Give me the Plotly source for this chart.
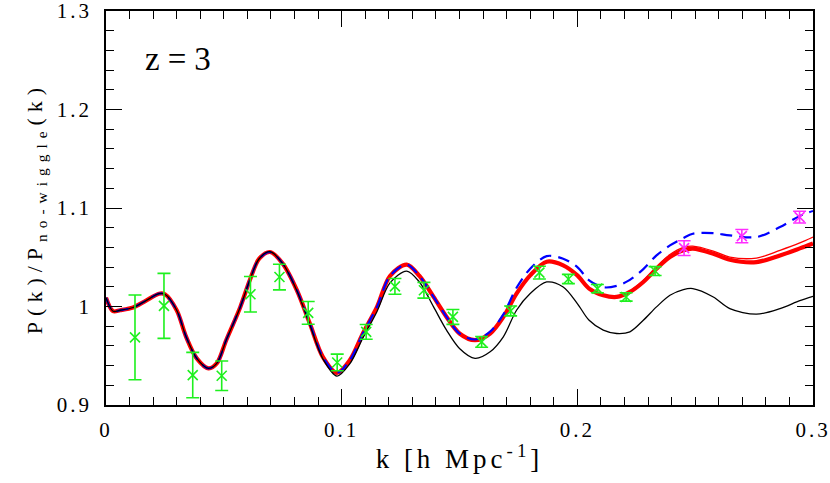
import plotly.graph_objects as go

# ---- data ----
k_curve = [0, 0.003, 0.006, 0.0115, 0.017, 0.0225, 0.025, 0.030, 0.034, 0.0385, 0.0435, 0.047,
           0.051, 0.057, 0.061, 0.065, 0.0696, 0.075, 0.081, 0.0865, 0.092, 0.098, 0.1035, 0.109,
           0.115, 0.1205, 0.1276, 0.133, 0.139, 0.1445, 0.150, 0.1566, 0.163, 0.1686, 0.1742, 0.180,
           0.187, 0.194, 0.200, 0.205, 0.211, 0.2167, 0.2223, 0.228, 0.2336, 0.2393, 0.245, 0.249,
           0.2577, 0.2647, 0.276, 0.286, 0.2944, 0.3]

ratio_red_thick = [1.009, 0.9952, 0.9962, 0.999, 1.006, 1.013, 1.0124, 0.9962, 0.9692, 0.9473, 0.9372, 0.9422,
                   0.9658, 0.9996, 1.0266, 1.0485, 1.0553, 1.0435, 1.0165, 0.9827, 0.9489, 0.9327, 0.9456, 0.9726,
                   0.9996, 1.031, 1.0425, 1.031, 1.0097, 0.9894, 0.9726, 0.9658, 0.9726, 0.9894, 1.0131, 1.0316,
                   1.0455, 1.0418, 1.0316, 1.0182, 1.0114, 1.0097, 1.0148, 1.0249, 1.0384, 1.0502, 1.057, 1.0587,
                   1.0536, 1.0475, 1.0451, 1.0519, 1.0590, 1.064]

ratio_red_thin = [1.009, 0.9952, 0.9962, 0.999, 1.006, 1.013, 1.0124, 0.9962, 0.9692, 0.9473, 0.9372, 0.9422,
                  0.9658, 0.9996, 1.0266, 1.0485, 1.0553, 1.0435, 1.0165, 0.9827, 0.9489, 0.9327, 0.9456, 0.9726,
                  0.9996, 1.031, 1.0425, 1.031, 1.0097, 0.9894, 0.9726, 0.9658, 0.9726, 0.9894, 1.0131, 1.0316,
                  1.0455, 1.0418, 1.0316, 1.0182, 1.0114, 1.0102, 1.0158, 1.0264, 1.0404, 1.0527, 1.060, 1.0613,
                  1.0563, 1.0502, 1.0492, 1.057, 1.0645, 1.0705]

ratio_blue = [1.009, 0.9952, 0.9962, 0.999, 1.006, 1.013, 1.0124, 0.9962, 0.9692, 0.9473, 0.9372, 0.9422,
              0.9658, 0.9996, 1.0266, 1.0485, 1.0553, 1.0435, 1.0165, 0.9827, 0.9489, 0.9327, 0.9456, 0.9726,
              0.9996, 1.031, 1.0425, 1.031, 1.0097, 0.9894, 0.9726, 0.9665, 0.9745, 0.992, 1.019, 1.0384,
              1.0512, 1.0485, 1.040, 1.0266, 1.0195, 1.021, 1.027, 1.038, 1.0519, 1.062, 1.0695, 1.0739,
              1.0745, 1.0722, 1.0705, 1.0806, 1.092, 1.097]

ratio_black = [1.009, 0.9952, 0.9962, 0.999, 1.006, 1.013, 1.0124, 0.9962, 0.9692, 0.9473, 0.9372, 0.9422,
               0.9658, 0.9996, 1.0266, 1.0485, 1.0556, 1.0435, 1.0160, 0.9815, 0.9470, 0.9294, 0.9420, 0.968,
               0.995, 1.024, 1.036, 1.0249, 0.9996, 0.976, 0.9574, 0.9473, 0.954, 0.9692, 0.9962, 1.0131,
               1.0249, 1.0198, 1.003, 0.986, 0.976, 0.9726, 0.9743, 0.986, 0.9996, 1.0114, 1.0172, 1.0182,
               1.0097, 0.9979, 0.9922, 0.9979, 1.006, 1.0104]

k_green = [0.0123, 0.0246, 0.0368, 0.0491, 0.0613, 0.0736, 0.0858, 0.0981, 0.1104, 0.1226,
           0.1349, 0.1472, 0.1594, 0.1717, 0.1839, 0.1962, 0.2085, 0.2207, 0.2330]
y_green = [0.9686, 1.0006, 0.9304, 0.9297, 1.0124, 1.0299, 0.9935, 0.9432, 0.9742, 1.0205,
           1.0165, 0.9894, 0.9641, 0.9955, 1.0344, 1.0279, 1.0182, 1.0097, 1.036]
err_green = [0.043, 0.033, 0.023, 0.015, 0.018, 0.013, 0.0115, 0.0085, 0.0075, 0.008,
             0.008, 0.0075, 0.0055, 0.005, 0.0065, 0.0047, 0.0042, 0.0042, 0.0045]

k_magenta = [0.2453, 0.2698, 0.2943]
y_magenta = [1.0593, 1.0714, 1.0907]
err_magenta = [0.0075, 0.0067, 0.006]

x_tickvals = [0, 0.1, 0.2, 0.3]
x_ticklabels = ["0", "0.1", "0.2", "0.3"]
y_tickvals = [0.9, 1.0, 1.1, 1.2, 1.3]
y_ticklabels = ["0.9", "1", "1.1", "1.2", "1.3"]

FONT = "Liberation Serif"
GREEN = "#1ef01e"
MAGENTA = "#ff2cff"


def spaced(s, px):
    return "<span style='letter-spacing:%dpx'>%s</span>" % (px, s)


fig = go.Figure()

fig.add_trace(go.Scatter(x=k_curve, y=ratio_red_thick, mode="lines",
                         line=dict(color="#ff0000", width=4.2, shape="spline", smoothing=0.9)))
fig.add_trace(go.Scatter(x=k_curve, y=ratio_red_thin, mode="lines",
                         line=dict(color="#ff0000", width=1.3, shape="spline", smoothing=0.9)))
fig.add_trace(go.Scatter(x=k_curve, y=ratio_blue, mode="lines",
                         line=dict(color="#0000ff", width=2.2, dash="12px,7px", shape="spline", smoothing=0.9)))
fig.add_trace(go.Scatter(x=k_curve, y=ratio_black, mode="lines",
                         line=dict(color="#000000", width=1.3, shape="spline", smoothing=0.9)))

fig.add_trace(go.Scatter(x=k_green, y=y_green, mode="markers",
                         marker=dict(symbol="x-thin", size=10, line=dict(color=GREEN, width=1.6), color=GREEN),
                         error_y=dict(type="data", array=err_green, visible=True, color=GREEN,
                                      thickness=1.6, width=6.5)))
fig.add_trace(go.Scatter(x=k_magenta, y=y_magenta, mode="markers",
                         marker=dict(symbol="x-thin", size=10, line=dict(color=MAGENTA, width=1.6), color=MAGENTA),
                         error_y=dict(type="data", array=err_magenta, visible=True, color=MAGENTA,
                                      thickness=1.6, width=6.5)))

fig.add_annotation(x=0.0155, y=1.251, xref="x", yref="y", text=spaced("z=3", 8), showarrow=False,
                   xanchor="left", yanchor="middle", font=dict(family=FONT, size=33, color="black"))

axis_common = dict(showgrid=False, zeroline=False, showline=True, linecolor="black", linewidth=1.5,
                   mirror="allticks", ticks="inside", ticklen=16, tickwidth=1.2, tickcolor="black",
                   tickfont=dict(family=FONT, size=21, color="black"), automargin=False,
                   ticklabeloverflow="allow")

fig.update_xaxes(range=[0, 0.3], tickvals=x_tickvals, ticktext=[spaced(t, 3) for t in x_ticklabels],
                 minor=dict(dtick=0.01, ticks="inside", ticklen=8, tickwidth=1.2, tickcolor="black"),
                 title=dict(text=spaced("k&nbsp;[h&nbsp;Mpc<sup>-1</sup>]", 4),
                            font=dict(family=FONT, size=27, color="black"), standoff=8),
                 ticklabelstandoff=5,
                 **axis_common)
fig.update_yaxes(range=[0.9, 1.3], tickvals=y_tickvals, ticktext=[spaced(t, 3) for t in y_ticklabels],
                 minor=dict(dtick=0.02, ticks="inside", ticklen=8, tickwidth=1.2, tickcolor="black"),
                 title=dict(text=spaced("P(k)/P<sub>no-wiggle</sub>(k)", 6),
                            font=dict(family=FONT, size=22, color="black"), standoff=8),
                 ticklabelstandoff=8,
                 **axis_common)

fig.update_layout(width=830, height=483, showlegend=False,
                  plot_bgcolor="white", paper_bgcolor="white",
                  margin=dict(l=106, r=17, t=11, b=78))

fig.write_html("out.html", config={"displayModeBar": False},
               post_script="document.body.style.margin='0';document.body.style.overflow='hidden';")
